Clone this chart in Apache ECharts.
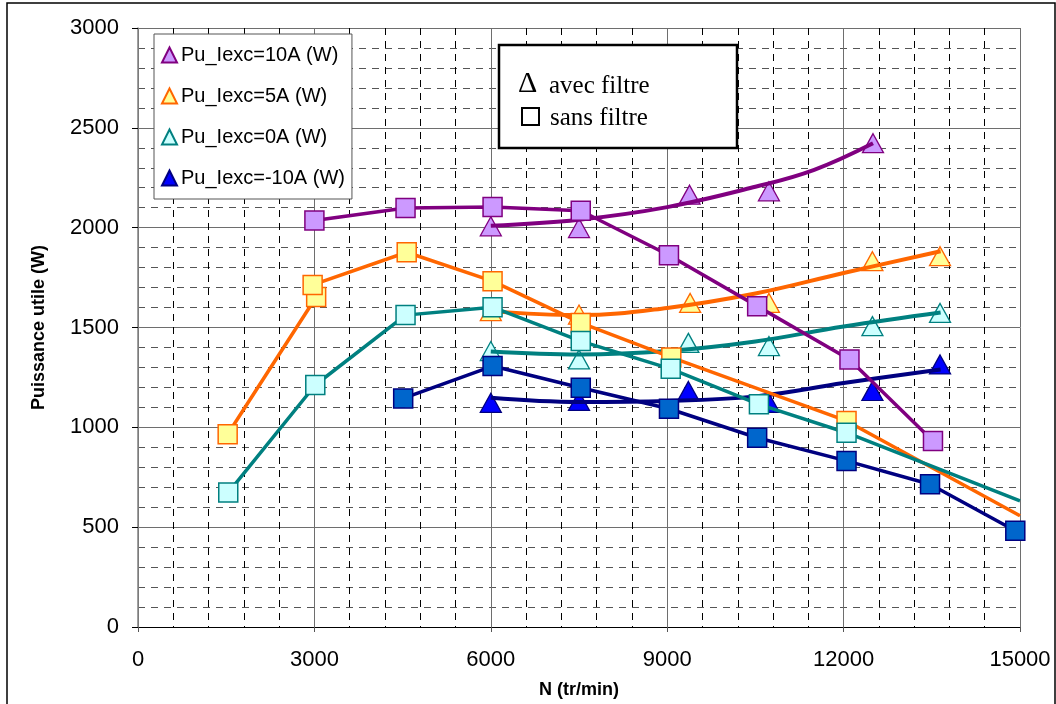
<!DOCTYPE html>
<html>
<head>
<meta charset="utf-8">
<script src="https://cdn.jsdelivr.net/npm/echarts@6/dist/echarts.min.js"></script>
<style>html,body{margin:0;padding:0;background:#fff}#c{width:1056px;height:704px}</style>
</head>
<body>
<div id="c"></div>
<script>
// ---- data ----
const seriesNames = ['Pu_Iexc=10A (W)', 'Pu_Iexc=5A (W)', 'Pu_Iexc=0A (W)', 'Pu_Iexc=-10A (W)'];

// "sans filtre" (squares, straight polylines)
const sq10 = [[3000,2036],[4550,2098],[6030,2103],[7530,2085],[9030,1862],[10530,1607],[12100,1340],[13520,932]];
const sq5  = [[1525,965],[3030,1653],[2970,1713],[4570,1877],[6030,1732],[7530,1523],[9070,1350],[12050,1032]];
const sq5End = [15000,557];
const sq0  = [[1535,673],[3015,1212],[4550,1562],[6030,1602],[7530,1432],[9060,1293],[10560,1115],[12050,973]];
const sq0End = [15000,632];
const sqM10 = [[4510,1145],[6030,1307],[7530,1198],[9030,1093],[10530,948],[12050,832],[13470,715],[14920,482]];

// "avec filtre" (triangles)
const tr10 = [[6000,2007],[7500,1998],[9380,2165],[10730,2182],[12500,2423]];
const tr5  = [[6000,1582],[7500,1565],[9390,1623],[10730,1623],[12490,1832],[13640,1857]];
const tr0  = [[6000,1382],[7500,1340],[9360,1423],[10730,1407],[12490,1507],[13640,1573]];
const trM10 = [[6000,1123],[7500,1132],[9360,1182],[10730,1123],[12490,1182],[13640,1315]];

// trend curves through the triangles
const tc10 = [[6000,2010],[7500,2040],[9000,2103],[10500,2205],[11500,2290],[12500,2423]];
const tc5  = [[6000,1582],[7500,1562],[9000,1598],[10500,1670],[12000,1773],[13650,1882]];
const tc0  = [[6000,1380],[7500,1365],[9000,1382],[10500,1430],[12000,1505],[13650,1575]];
const tcM10 = [[6000,1148],[7500,1127],[9000,1132],[10500,1155],[12000,1222],[13650,1290]];

const xTicks = [0,3000,6000,9000,12000,15000];
const yTicks = [0,500,1000,1500,2000,2500,3000];

// ---- styles ----
const styles = [
  {line:'#800080', fill:'#CC99FF', border:'#800080', triFill:'#CC99FF', triBorder:'#800080'},
  {line:'#FF6600', fill:'#FFFF99', border:'#FF6600', triFill:'#FFFF99', triBorder:'#FF6600'},
  {line:'#008080', fill:'#CCFFFF', border:'#008080', triFill:'#CCFFFF', triBorder:'#008080'},
  {line:'#000080', fill:'#0066CC', border:'#000080', triFill:'#0000FF', triBorder:'#000080'}
];
const sqSets = [sq10, sq5, sq0, sqM10];
const sqEnds = [null, sq5End, sq0End, null];
const trSets = [tr10, tr5, tr0, trM10];
const tcSets = [tc10, tc5, tc0, tcM10];

const series = [];
for (let i = 0; i < 4; i++) {
  const st = styles[i];
  series.push({
    name: seriesNames[i], type: 'scatter', data: trSets[i],
    symbol: 'triangle', symbolSize: [21, 19], z: 3,
    itemStyle: {color: st.triFill, borderColor: st.triBorder, borderWidth: 1.3, opacity: 1}
  });
  series.push({
    name: 'trend' + i, type: 'line', data: tcSets[i], smooth: 0.4,
    showSymbol: false, symbol: 'none', z: 4, silent: true,
    lineStyle: {color: st.line, width: 4}
  });
}
for (let i = 0; i < 4; i++) {
  const st = styles[i];
  const d = sqSets[i].map(p => p.slice());
  if (sqEnds[i]) d.push({value: sqEnds[i], symbol: 'none'});
  series.push({
    name: 'sq' + i, type: 'line', data: d, smooth: false,
    symbol: 'rect', symbolSize: 19, showAllSymbol: true, z: 5,
    lineStyle: {color: st.line, width: 3.5},
    itemStyle: {color: st.fill, borderColor: st.border, borderWidth: 1.5}
  });
}

const chart = echarts.init(document.getElementById('c'), null, {renderer: 'canvas'});
chart.setOption({
  animation: false,
  backgroundColor: '#fff',
  grid: {left: 138, right: 36, top: 28, bottom: 67, containLabel: false},
  xAxis: {
    type: 'value', min: xTicks[0], max: xTicks[xTicks.length-1], interval: 3000,
    name: 'N (tr/min)', nameLocation: 'middle', nameGap: 54,
    nameTextStyle: {fontFamily: 'Liberation Sans, Arial', fontWeight: 'bold', fontSize: 18, color: '#000'},
    axisLine: {show: true, onZero: false, lineStyle: {color: '#000', width: 1}},
    axisTick: {show: true, length: 5, lineStyle: {color: '#555'}},
    axisLabel: {fontFamily: 'Liberation Sans, Arial', fontSize: 22, color: '#000', margin: 22,
      formatter: v => String(v)},
    splitLine: {show: true, lineStyle: {color: '#6e6e6e', width: 1}},
    minorTick: {show: false, splitNumber: 5},
    minorSplitLine: {show: true, lineStyle: {color: '#000', width: 1, type: [7, 6]}}
  },
  yAxis: {
    type: 'value', min: yTicks[0], max: yTicks[yTicks.length-1], interval: 500,
    name: 'Puissance utile (W)', nameLocation: 'middle', nameGap: 90,
    nameTextStyle: {fontFamily: 'Liberation Sans, Arial', fontWeight: 'bold', fontSize: 18, color: '#000'},
    axisLine: {show: true, onZero: false, lineStyle: {color: '#808080', width: 1.5}},
    axisTick: {show: true, length: 6, lineStyle: {color: '#000'}},
    axisLabel: {fontFamily: 'Liberation Sans, Arial', fontSize: 22, color: '#000', margin: 19,
      formatter: v => String(v)},
    splitLine: {show: true, lineStyle: {color: '#6e6e6e', width: 1}},
    minorTick: {show: false, splitNumber: 5},
    minorSplitLine: {show: true, lineStyle: {color: '#555', width: 1, type: [7, 6]}}
  },
  legend: {
    show: true, orient: 'vertical', left: 154, top: 34,
    data: seriesNames, itemGap: 21, itemWidth: 15, itemHeight: 15,
    padding: [11, 7, 11, 7],
    backgroundColor: '#fff', borderColor: '#555', borderWidth: 1,
    textStyle: {fontFamily: 'Liberation Sans, Arial', fontSize: 20, color: '#000', padding: [0, 0, 0, -1]},
    selectedMode: false
  },
  graphic: [
    {type: 'rect', shape: {x: 7, y: 3, width: 1048, height: 710}, style: {fill: 'none', stroke: '#000', lineWidth: 1.5}, silent: true, z: 0},
    {type: 'rect', shape: {x: 499, y: 45, width: 238, height: 103}, style: {fill: '#fff', stroke: '#000', lineWidth: 2.5}, z: 100},
    {type: 'text', x: 518, y: 84, style: {text: 'Δ', font: '30px "Liberation Serif", "DejaVu Serif", serif', fill: '#000', textVerticalAlign: 'middle'}, z: 101},
    {type: 'text', x: 549, y: 86, style: {text: 'avec filtre', font: '25px "Liberation Serif", "DejaVu Serif", serif', fill: '#000', textVerticalAlign: 'middle'}, z: 101},
    {type: 'rect', shape: {x: 522, y: 108, width: 17, height: 17}, style: {fill: '#fff', stroke: '#000', lineWidth: 2}, z: 101},
    {type: 'text', x: 550, y: 118, style: {text: 'sans filtre', font: '25px "Liberation Serif", "DejaVu Serif", serif', fill: '#000', textVerticalAlign: 'middle'}, z: 101}
  ],
  series: series
});
</script>
</body>
</html>
